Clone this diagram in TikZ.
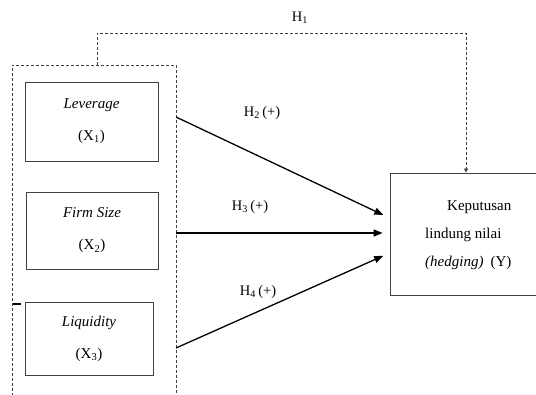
\documentclass[tikz,border=0pt]{standalone}
\usepackage{fontspec}
\setmainfont{Liberation Serif}
\usetikzlibrary{arrows.meta,calc,positioning}

\tikzset{
    varbox/.style={draw=black!75, line width=0.8pt, align=center, inner sep=0pt},
    hyparrow/.style={-{Triangle[length=9pt,width=7pt]}, line width=1.3pt, shorten >=7pt},
    groupline/.style={draw=black!75, line width=0.8pt, dash pattern=on 3pt off 2pt},
    hyplabel/.style={font=\fontsize{14.5}{17}\selectfont}
}

\begin{document}
\begin{tikzpicture}[x=1pt, y=-1pt, font=\fontsize{15}{17}\selectfont]
        \useasboundingbox (0,0) rectangle (536,395);

        % independent variables
        \node [varbox, minimum width=133pt, minimum height=79pt] (lev) at (91.5,121.5)
            {\textit{Leverage}\\[15pt](X\textsubscript{1})};
        \node [varbox, minimum width=132pt, minimum height=77pt] (size) at (92,230.5)
            {\textit{Firm Size}\\[15pt](X\textsubscript{2})};
        \node [varbox, minimum width=128pt, minimum height=73pt] (liq) at (89,338.5)
            {\textit{Liquidity}\\[15pt](X\textsubscript{3})};

        % dependent variable
        \node [varbox, minimum width=148pt, minimum height=122pt] (hedge) at (464,234) {};
        \node [align=left, anchor=west, inner sep=0pt, font=\fontsize{15}{28}\selectfont] (hedgetxt) at (425,235)
            {\hspace{22pt}Keputusan\\lindung nilai\\\textit{(hedging)}\hspace{7pt}(Y)};

        % group of independent variables
        \coordinate (grpbl) at (12,396);
        \coordinate (grptl) at (12,65);
        \coordinate (grptr) at (176,65);
        \coordinate (grpbr) at (176,396);
        \draw [groupline] (grpbl) -- (grptl) -- (grptr) -- (grpbr);
        \draw [line width=1.3pt] (13,304) -- (21,304);

        \coordinate (out2) at (grptr |- 0,117);
        \coordinate (out3) at (grptr |- 0,233);
        \coordinate (out4) at (grptr |- 0,348);

        % H1 (simultaneous)
        \coordinate (h1a) at (97,65);
        \coordinate (h1b) at (97,33);
        \coordinate (h1c) at (466,33);
        \draw [groupline, -{Triangle[length=4pt,width=4pt]}] (h1a) -- (h1b) -- (h1c) -- (h1c |- hedge.north);
        \node [hyplabel] (h1) at (300,18) {H\textsubscript{1}};

        % partial hypotheses
        \draw [hyparrow] (out2) -- ($(hedge.west)+(0,-16)$);
        \draw [hyparrow] (out3) -- (hedge.west |- out3);
        \draw [hyparrow] (out4) -- ($(hedge.west)+(0,19)$);

        \node [hyplabel] (h2) at (262,113) {H\textsubscript{2}\,(+)};
        \node [hyplabel] (h3) at (250,207) {H\textsubscript{3}\,(+)};
        \node [hyplabel] (h4) at (258,292) {H\textsubscript{4}\,(+)};
    \end{tikzpicture}
\end{document}
